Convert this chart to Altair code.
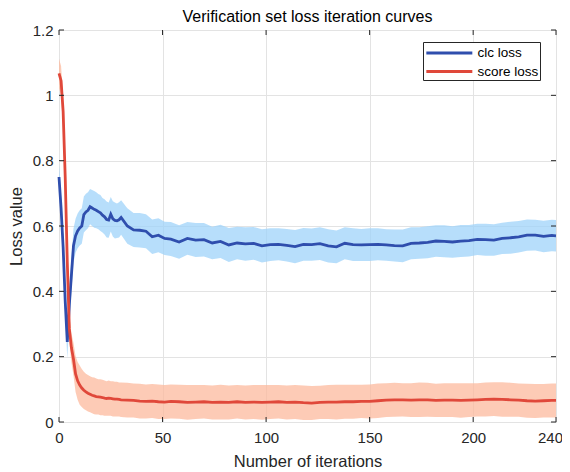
import altair as alt
import pandas as pd

# ---------------- data ----------------
iterations = [0, 1, 2, 3, 4, 5, 6, 7, 8, 9,
              10, 11, 12, 13, 14, 15, 16, 17, 18, 19,
              20, 21, 22, 23, 24, 25, 26, 27, 28, 29, 30,
              33, 36, 39, 42, 45, 48, 51, 54,
              58, 62, 66, 70, 74, 78, 82, 86, 90, 94,
              98, 102, 106, 110, 114, 118, 122, 126, 130, 134,
              138, 142, 146, 150, 154, 158, 162, 166, 170, 174,
              178, 182, 186, 190, 194, 198, 202, 206, 210, 214,
              218, 222, 226, 230, 234, 238, 240]

clc_loss = [0.750, 0.655, 0.535, 0.370, 0.245, 0.360, 0.450, 0.540, 0.570, 0.585,
            0.594, 0.600, 0.635, 0.643, 0.648, 0.659, 0.655, 0.651, 0.648, 0.644,
            0.640, 0.633, 0.628, 0.620, 0.618, 0.636, 0.622, 0.617, 0.616, 0.619, 0.626,
            0.600, 0.588, 0.587, 0.584, 0.567, 0.572, 0.562, 0.560,
            0.551, 0.562, 0.557, 0.558, 0.548, 0.553, 0.542, 0.548, 0.545, 0.547,
            0.539, 0.543, 0.544, 0.541, 0.537, 0.544, 0.543, 0.546, 0.539, 0.536,
            0.547, 0.543, 0.542, 0.543, 0.544, 0.542, 0.540, 0.539, 0.547, 0.548,
            0.550, 0.554, 0.553, 0.551, 0.554, 0.555, 0.559, 0.558, 0.557, 0.562,
            0.564, 0.567, 0.572, 0.572, 0.568, 0.571, 0.570]

clc_spread = [0.040, 0.040, 0.042, 0.045, 0.050, 0.050, 0.050, 0.052, 0.052, 0.053,
              0.054, 0.054, 0.055, 0.056, 0.055, 0.054, 0.055, 0.056, 0.055, 0.054,
              0.055, 0.053, 0.054, 0.055, 0.054, 0.053, 0.054, 0.055, 0.053, 0.054, 0.053,
              0.054, 0.052, 0.053, 0.052, 0.053, 0.052, 0.051, 0.052,
              0.051, 0.050, 0.052, 0.051, 0.050, 0.051, 0.052, 0.050, 0.051, 0.050,
              0.051, 0.050, 0.049, 0.050, 0.051, 0.050, 0.049, 0.050, 0.051, 0.050,
              0.049, 0.050, 0.049, 0.050, 0.049, 0.048, 0.049, 0.050, 0.049, 0.048,
              0.049, 0.048, 0.049, 0.048, 0.049, 0.048, 0.048, 0.049, 0.048, 0.048,
              0.049, 0.048, 0.048, 0.047, 0.048, 0.048, 0.048]

score_loss = [1.067, 1.045, 0.950, 0.750, 0.490, 0.285, 0.227, 0.192, 0.147, 0.126,
              0.113, 0.104, 0.097, 0.092, 0.088, 0.085, 0.082, 0.080, 0.078, 0.077,
              0.076, 0.075, 0.073, 0.072, 0.073, 0.072, 0.071, 0.070, 0.070, 0.069, 0.068,
              0.067, 0.066, 0.064, 0.063, 0.064, 0.062, 0.061, 0.063,
              0.062, 0.060, 0.061, 0.062, 0.060, 0.061, 0.060, 0.062, 0.060, 0.061,
              0.060, 0.061, 0.062, 0.060, 0.061, 0.059, 0.058, 0.060, 0.061, 0.061,
              0.062, 0.062, 0.063, 0.063, 0.065, 0.067, 0.068, 0.068, 0.067, 0.068,
              0.068, 0.066, 0.067, 0.067, 0.066, 0.067, 0.068, 0.069, 0.070, 0.069,
              0.068, 0.067, 0.065, 0.064, 0.065, 0.066, 0.066]

score_spread = [0.045, 0.045, 0.045, 0.042, 0.040, 0.040, 0.045, 0.050, 0.055, 0.058,
                0.060, 0.058, 0.057, 0.056, 0.056, 0.055, 0.055, 0.056, 0.055, 0.054,
                0.055, 0.054, 0.054, 0.053, 0.054, 0.053, 0.054, 0.053, 0.053, 0.052, 0.053,
                0.053, 0.052, 0.053, 0.052, 0.052, 0.053, 0.052, 0.052,
                0.052, 0.053, 0.052, 0.051, 0.052, 0.053, 0.052, 0.051, 0.052, 0.052,
                0.053, 0.052, 0.051, 0.052, 0.052, 0.053, 0.052, 0.051, 0.052, 0.053,
                0.052, 0.052, 0.051, 0.052, 0.053, 0.052, 0.052, 0.051, 0.052, 0.053,
                0.052, 0.051, 0.052, 0.052, 0.053, 0.052, 0.051, 0.052, 0.052, 0.053,
                0.052, 0.051, 0.052, 0.052, 0.051, 0.052, 0.052]

series_names = ["clc loss", "score loss"]
line_colors = ["#2F4EAD", "#E0483A"]
band_colors = ["#9FD3F9", "#FCB99E"]

x_ticks = [0, 50, 100, 150, 200, 240]
y_ticks = [0, 0.2, 0.4, 0.6, 0.8, 1.0, 1.2]

# ---------------- tables ----------------
clc_df = pd.DataFrame({"iteration": iterations, "value": clc_loss, "spread": clc_spread})
clc_df["series"] = series_names[0]
score_df = pd.DataFrame({"iteration": iterations, "value": score_loss, "spread": score_spread})
score_df["series"] = series_names[1]
for d in (clc_df, score_df):
    d["lo"] = d["value"] - d["spread"]
    d["hi"] = d["value"] + d["spread"]
lines_df = pd.concat([clc_df, score_df], ignore_index=True)

xtick_df = pd.DataFrame({"iteration": x_ticks})
ytick_df = pd.DataFrame({"value": y_ticks})

FONT = "Liberation Sans"
TXT = "#262626"
W, H = 497, 392

x_scale = alt.Scale(domain=[0, 240], nice=False, zero=False)
y_scale = alt.Scale(domain=[0, 1.2], nice=False)

x_axis = alt.Axis(values=x_ticks, grid=True, gridColor="#E3E3E3", gridWidth=1,
                  tickSize=0, domain=False, labelFont=FONT, labelFontSize=15,
                  labelColor=TXT, labelPadding=8, labelFlush=False,
                  labelOffset={"condition": {"test": "datum.value === 240", "value": -6},
                               "value": 0},
                  titleFont=FONT, titleFontSize=16.5, titleFontWeight="normal",
                  titleColor=TXT, titlePadding=8)
y_axis = alt.Axis(values=y_ticks, grid=True, gridColor="#E3E3E3", gridWidth=1,
                  tickSize=0, domain=False, labelFont=FONT, labelFontSize=15,
                  labelColor=TXT, labelPadding=6, format=".1~f", labelFlush=False,
                  titleFont=FONT, titleFontSize=16.5, titleFontWeight="normal",
                  titleColor=TXT, titlePadding=8)

X_TITLE = "Number of iterations"
Y_TITLE = "Loss value"


def xenc(field="iteration"):
    return alt.X(f"{field}:Q", scale=x_scale, axis=x_axis, title=X_TITLE)


def yenc(field):
    return alt.Y(f"{field}:Q", scale=y_scale, axis=y_axis, title=Y_TITLE)


band_clc = alt.Chart(clc_df).mark_area(color=band_colors[0], opacity=0.75).encode(
    x=xenc(), y=yenc("lo"), y2="hi")
band_score = alt.Chart(score_df).mark_area(color=band_colors[1], opacity=0.75).encode(
    x=xenc(), y=yenc("lo"), y2="hi")

lines = alt.Chart(lines_df).mark_line(strokeWidth=2.8).encode(
    x=xenc(),
    y=yenc("value"),
    color=alt.Color("series:N",
                    scale=alt.Scale(domain=series_names, range=line_colors),
                    legend=alt.Legend(orient="none", legendX=364, legendY=12,
                                      title=None, symbolType="M-1,0H5",
                                      symbolSize=235, symbolStrokeWidth=3,
                                      labelFont=FONT, labelFontSize=13.5,
                                      labelColor="#000000", labelOffset=34,
                                      strokeColor=TXT, fillColor="white",
                                      padding=1.5, rowPadding=2.5)),
    detail="series:N",
)

tick_color = TXT
ticks_bottom = alt.Chart(xtick_df).mark_rule(color=tick_color, strokeWidth=1).encode(
    x=xenc(), y=alt.value(H), y2=alt.value(H - 5))
ticks_top = alt.Chart(xtick_df).mark_rule(color=tick_color, strokeWidth=1).encode(
    x=xenc(), y=alt.value(0), y2=alt.value(5))
ticks_left = alt.Chart(ytick_df).mark_rule(color=tick_color, strokeWidth=1).encode(
    y=yenc("value"), x=alt.value(0), x2=alt.value(5))
ticks_right = alt.Chart(ytick_df).mark_rule(color=tick_color, strokeWidth=1).encode(
    y=yenc("value"), x=alt.value(W), x2=alt.value(W - 5))

chart = alt.layer(
    band_clc, band_score, lines, ticks_bottom, ticks_top, ticks_left, ticks_right
).properties(
    width=W,
    height=H,
    title=alt.TitleParams("Verification set loss iteration curves", font=FONT,
                          fontSize=16, fontWeight="normal", color="#000000",
                          anchor="middle", offset=-1.5),
    autosize=alt.AutoSizeParams(type="none"),
    padding={"left": 51, "top": 22, "right": 6, "bottom": 48},
).configure_view(
    stroke="#3A3A3A", strokeWidth=1
).configure(background="white")

chart.save("out.html", embed_options={"renderer": "svg", "actions": False})
